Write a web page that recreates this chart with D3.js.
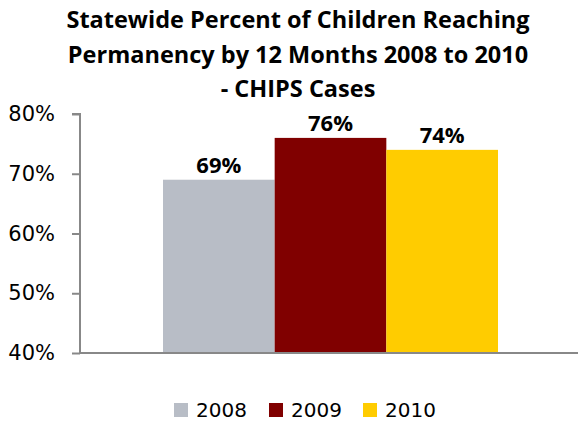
<!DOCTYPE html>
<html><head><meta charset="utf-8">
<script src="https://cdn.jsdelivr.net/npm/d3@7"></script>
<style>body{margin:0;background:#fff}svg{display:block}text{font-family:"Open Sans",sans-serif}</style>
</head><body><svg id="c" width="578" height="421"></svg>
<script>
const titleLines = ["Statewide Percent of Children Reaching","Permanency by 12 Months 2008 to 2010","- CHIPS Cases"];
const years = ["2008","2009","2010"];
const values = [0.69,0.76,0.74];
const colors = ["#B8BDC6","#800000","#FFCC00"];
const yTicks = [0.4,0.5,0.6,0.7,0.8];

const svg = d3.select("#c");
const plot = {left:80,right:578,top:114,bottom:353};
const y = d3.scaleLinear().domain([0.4,0.8]).range([plot.bottom,plot.top]);
const x = d3.scaleBand().domain(years).range([163,498]).padding(0);

svg.append("g").selectAll("text").data(titleLines).join("text")
  .attr("x",298).attr("y",(d,i)=>28+i*34.5).attr("text-anchor","middle")
  .style("font-weight","bold").style("font-size","23.5px").text(d=>d);

svg.append("g").selectAll("rect").data(years).join("rect")
  .attr("x",d=>x(d)).attr("width",x.bandwidth())
  .attr("y",(d,i)=>y(values[i])).attr("height",(d,i)=>y(0.4)-y(values[i]))
  .attr("fill",(d,i)=>colors[i]);

svg.append("g").selectAll("text").data(years).join("text")
  .attr("x",d=>x(d)+x.bandwidth()/2).attr("y",(d,i)=>y(values[i])-7)
  .attr("text-anchor","middle").style("font-weight","bold").style("font-size","22px")
  .text((d,i)=>d3.format(".0%")(values[i]));

const yAxis = svg.append("g").attr("transform",`translate(${plot.left},0)`)
  .call(d3.axisLeft(y).tickValues(yTicks).tickFormat(d3.format(".0%")).tickSize(8).tickPadding(17));
yAxis.select(".domain").attr("stroke","#888").attr("stroke-width",2).attr("d",`M-8,${plot.top}H0V${plot.bottom}`);
yAxis.selectAll(".tick line").attr("stroke","#888").attr("stroke-width",2);
yAxis.selectAll(".tick text").style("font-size","21px").attr("fill","#000").style("font-family","'DejaVu Sans',sans-serif");

svg.append("line").attr("x1",plot.left).attr("x2",plot.right).attr("y1",plot.bottom).attr("y2",plot.bottom)
  .attr("stroke","#888").attr("stroke-width",2);

const legX = [174,269,363];
const lg = svg.append("g").selectAll("g").data(years).join("g")
  .attr("transform",(d,i)=>`translate(${legX[i]},403)`);
lg.append("rect").attr("width",14).attr("height",14).attr("fill",(d,i)=>colors[i]);
lg.append("text").attr("x",22).attr("y",14).style("font-size","20px").style("font-family","'DejaVu Sans',sans-serif").text(d=>d);
</script></body></html>
